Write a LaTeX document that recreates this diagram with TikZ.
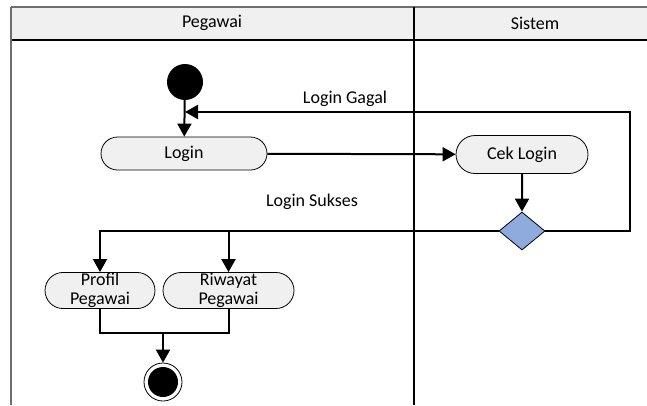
\documentclass[tikz,border=0pt]{standalone}
\usepackage{fontspec}
\setmainfont{Carlito}
\usetikzlibrary{shapes.geometric,shapes.misc,arrows.meta}

\definecolor{headgray}{RGB}{240,240,240}
\definecolor{framegray}{RGB}{110,110,110}
\definecolor{decblue}{RGB}{143,170,220}

\tikzset{
  act/.style={draw, rounded rectangle, fill=headgray, line width=0.8pt, inner sep=1pt, align=center, font=\fontsize{18}{18.5}\selectfont},
  flow/.style={line width=2pt, -{Triangle[length=13pt,width=14pt]}},
  lbl/.style={font=\fontsize{18}{18.5}\selectfont}
}

\begin{document}
\begin{tikzpicture}[x=1pt,y=-1pt]
\useasboundingbox (0,0) rectangle (647,405);

%Swimlane header
\fill [headgray] (11,7) rectangle (647,40);
\draw [framegray, line width=1.5pt] (11,7) -- (647,7);
\draw [line width=1.5pt] (11,40) -- (647,40);
\draw [framegray, line width=1.5pt] (11,7) -- (11,405);
\draw [line width=1.5pt] (414,7) -- (414,405);
\node [lbl] (pegawai) at (212,23) {Pegawai};
\node [lbl] (sistem) at (535,23) {Sistem};

%Start
\node [circle, fill=black, minimum size=36pt, inner sep=0pt] (start) at (185,82) {};

%Activities
\node [act, minimum width=168pt, minimum height=33pt] (login) at (184,153.5) {Login};
\node [act, minimum width=134pt, minimum height=38pt] (ceklogin) at (522,154.5) {Cek Login};
\node [act, minimum width=112pt, minimum height=35pt] (profil) at (100,290.5) {Profil\\Pegawai};
\node [act, minimum width=133pt, minimum height=35pt] (riwayat) at (228.5,290.5) {Riwayat\\Pegawai};

%Decision
\node [diamond, draw, fill=decblue, line width=0.8pt, minimum width=46pt, minimum height=38pt, inner sep=0pt] (dec) at (522,231) {};

%End
\node [circle, draw, fill=white, line width=0.8pt, minimum size=38pt, inner sep=0pt] (end) at (163,382) {};
\node [circle, fill=black, minimum size=30pt, inner sep=0pt] (endin) at (end) {};

%Flows
\coordinate (gagal) at (185,112);
\coordinate (join) at (163,333);
\draw [flow] (start) -- (login);
\draw [flow] (login) -- (ceklogin);
\draw [flow] (ceklogin) -- (dec);
\draw [flow] (dec.east) -- (630,231) |- (gagal);
\draw [flow] (dec.west) -| (profil.north);
\draw [flow] (riwayat.north |- dec.west) -- (riwayat.north);
\draw [line width=2pt] (profil.south) |- (join) -| (riwayat.south);
\draw [flow] (join) -- (end);

%Guards
\node [lbl] (lgagal) at (345,99) {Login Gagal};
\node [lbl] (lsukses) at (312,202) {Login Sukses};

\end{tikzpicture}
\end{document}
